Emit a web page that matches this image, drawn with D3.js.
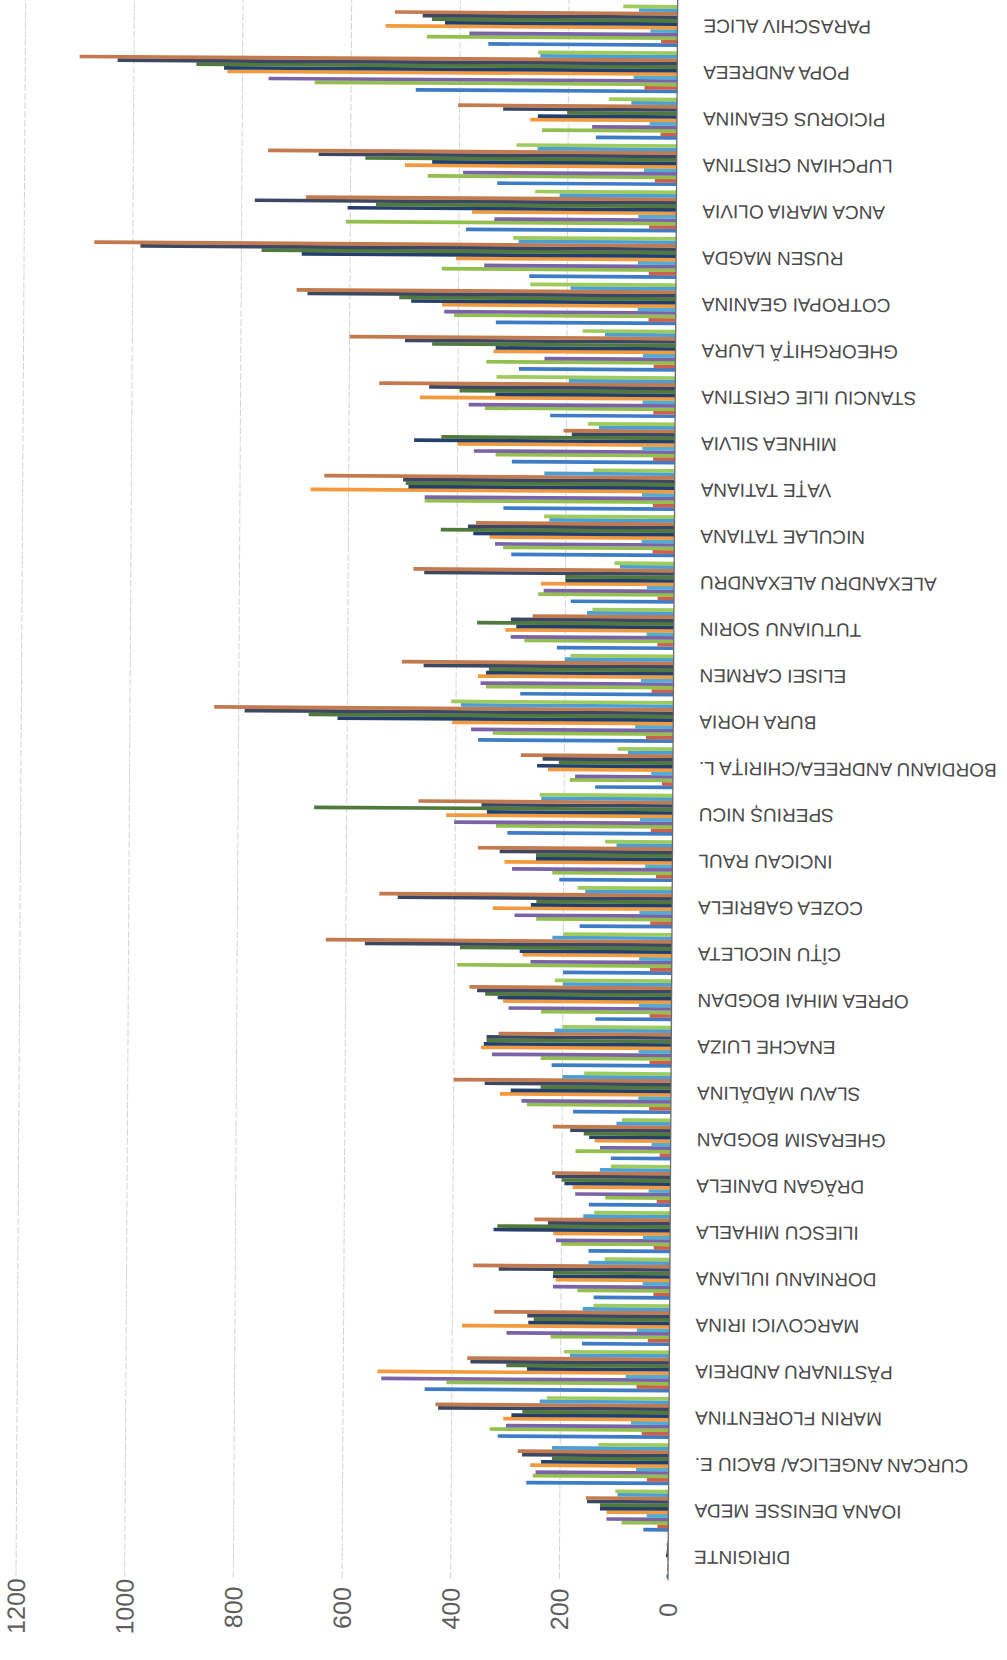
<!DOCTYPE html>
<html>
<head>
<meta charset="utf-8">
<script src="https://cdn.jsdelivr.net/npm/d3@7"></script>
<style>
  html, body { margin: 0; padding: 0; background: #fff; }
  svg { display: block; }
</style>
</head>
<body>
<div id="chart"></div>
<script>
// categories, bottom to top as they sit on the page
const categories = [
  "DIRIGINTE", "IOANA DENISSE MEDA", "CURCAN ANGELICA/ BACIU E.", "MARIN FLORENTINA",
  "PĂSTINARU ANDREIA", "MARCOVICI IRINA", "DORNIANU IULIANA", "ILIESCU MIHAELA",
  "DRĂGAN DANIELA", "GHERASIM BOGDAN", "SLAVU MĂDĂLINA", "ENACHE LUIZA",
  "OPREA MIHAI BOGDAN", "CÎȚU NICOLETA", "COZEA GABRIELA", "INCICAU RAUL",
  "SPERIUȘ NICU", "BORDIANU ANDREEA/CHIRIȚA L.", "BURA HORIA", "ELISEI CARMEN",
  "TUTUIANU SORIN", "ALEXANDRU ALEXANDRU", "NICULAE TATIANA", "VAȚE TATIANA",
  "MIHNEA SILVIA", "STANCIU ILIE CRISTINA", "GHEORGHIȚĂ LAURA", "COTROPAI GEANINA",
  "RUSEN MAGDA", "ANCA MARIA OLIVIA", "LUPCHIAN CRISTINA", "PICIORUS GEANINA",
  "POPA ANDREEA", "PARASCHIV ALICE"
];

// one array per series, same order as categories
const s1  = [3,46,262,315,450,161,140,150,150,110,180,220,140,200,170,208,304,143,359,282,215,190,300,315,300,230,288,331,270,387,330,149,481,348];
const s2  = [0,20,40,50,60,40,30,30,25,20,40,40,40,40,40,30,40,20,50,40,30,30,40,40,40,40,40,50,50,50,40,30,60,30];
const s3  = [2,86,250,330,410,219,170,200,120,175,265,240,240,395,250,221,325,190,332,345,275,250,315,460,330,350,348,408,431,608,458,248,667,461];
const s4  = [1,114,245,300,530,300,215,210,175,130,275,330,300,260,290,295,402,180,372,355,300,240,330,460,370,380,241,426,353,335,393,156,752,383];
const s5  = [0,40,60,70,80,60,50,50,40,35,60,60,60,60,60,50,60,40,70,60,50,50,60,60,60,60,60,70,70,70,60,50,80,50];
const s6  = [2,114,255,305,537,382,210,215,180,140,315,350,310,275,330,309,417,230,407,360,310,245,340,670,400,470,335,430,405,376,500,270,828,537];
const s7  = [4,126,235,290,262,260,215,325,195,150,295,345,320,280,260,251,342,250,618,345,290,200,370,490,480,331,331,487,689,605,450,256,834,428];
const s8  = [3,126,215,270,300,250,215,318,200,160,240,340,343,390,250,251,660,210,671,340,362,200,430,495,430,397,448,509,763,553,573,202,885,452];
const s9  = [2,150,270,425,366,262,315,225,212,185,343,340,358,565,505,318,352,240,789,460,300,460,380,500,190,453,498,678,986,776,659,320,1030,469];
const s10 = [3,152,278,430,372,323,362,250,218,217,400,318,372,637,539,358,468,280,845,500,260,480,365,645,205,545,600,698,1071,682,752,403,1100,520];
const s11 = [1,94,215,238,183,160,150,160,130,100,200,215,200,220,160,103,242,83,391,200,160,100,230,240,140,196,130,194,290,215,256,84,252,71];
const s12 = [0,98,130,225,194,140,120,140,110,90,160,200,215,200,174,124,245,102,409,190,150,110,240,150,160,329,171,268,300,260,295,125,256,100];

const seriesValues = [s1, s2, s3, s4, s5, s6, s7, s8, s9, s10, s11, s12];
const seriesColors = ["#3f7cc6", "#cf5f4a", "#93bf4c", "#7a63a6", "#4eaed6", "#f39a3e",
                      "#243f6c", "#4f7a3c", "#3c4862", "#c27a4e", "#4c9fd6", "#9dcb5c"];
const valueTicks = [0, 200, 400, 600, 800, 1000, 1200];

const W = 1007, H = 1660;
const axisX = 668, plotBottom = 1580.2, plotTop = 2.6;

const svg = d3.select("#chart").append("svg")
  .attr("width", W).attr("height", H)
  .attr("viewBox", `0 0 ${W} ${H}`);

svg.append("rect").attr("width", W).attr("height", H).attr("fill", "#fff");

// the scan is a bit crooked, so the whole chart is turned slightly
const g = svg.append("g").attr("transform", `rotate(0.35,${axisX},${plotBottom})`);

const x = d3.scaleLinear().domain([0, 1200]).range([axisX, 16]);
const y = d3.scaleBand().domain(categories).range([plotBottom, plotTop]).paddingInner(0.1).paddingOuter(0.05);
const yi = d3.scaleBand().domain(d3.range(seriesValues.length)).range([y.bandwidth(), 0]);

// gridlines
g.append("g").selectAll("line").data(valueTicks.slice(1)).join("line")
  .attr("x1", d => x(d)).attr("x2", d => x(d))
  .attr("y1", -20).attr("y2", plotBottom)
  .attr("stroke", "#d4d4d4").attr("stroke-width", 1).attr("stroke-dasharray", "7,2");

// bars
const barLayer = g.append("g");
seriesValues.forEach((vals, si) => {
  barLayer.append("g").selectAll("rect").data(vals).join("rect")
    .attr("x", d => x(d))
    .attr("width", d => x(0) - x(d))
    .attr("y", (d, i) => y(categories[i]) + yi(si))
    .attr("height", yi.bandwidth() + 0.2)
    .attr("fill", seriesColors[si]);
});

// category axis line
g.append("line")
  .attr("x1", axisX).attr("x2", axisX).attr("y1", -20).attr("y2", plotBottom)
  .attr("stroke", "#6a6a6a").attr("stroke-width", 1.3);

// value labels, turned a quarter
g.append("g").selectAll("text").data(valueTicks).join("text")
  .attr("transform", d => `translate(${x(d)},1610) rotate(-90)`)
  .attr("text-anchor", "middle").attr("dominant-baseline", "central")
  .attr("fill", "#5e5e5e")
  .style("font-family", "'Liberation Sans', Arial, sans-serif").style("font-size", "25px")
  .text(d => d);

// category labels, upside down
g.append("g").selectAll("text").data(categories).join("text")
  .attr("transform", d => `translate(694,${y(d) + y.bandwidth() / 2}) rotate(180)`)
  .attr("text-anchor", "end").attr("dominant-baseline", "central")
  .attr("fill", "#4a4a4a")
  .style("font-family", "'Liberation Sans', Arial, sans-serif").style("font-size", "19px")
  .text(d => d);
</script>
</body>
</html>
